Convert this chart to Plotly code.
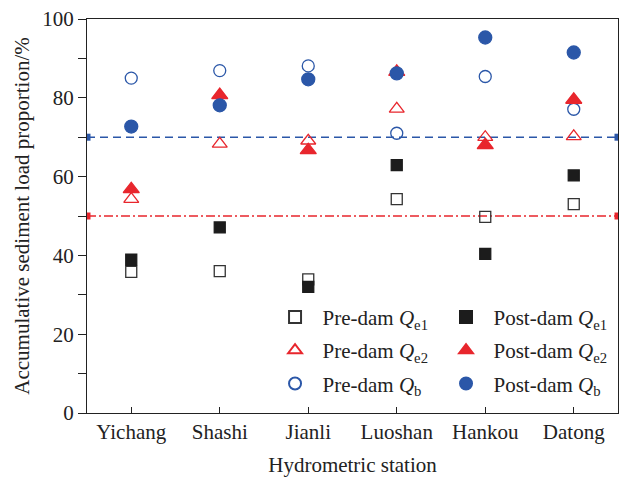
import plotly.graph_objects as go

stations = ["Yichang", "Shashi", "Jianli", "Luoshan", "Hankou", "Datong"]
pre_qe1 = [35.8, 36.0, 33.9, 54.3, 49.8, 53.0]
post_qe1 = [38.9, 47.1, 32.0, 62.9, 40.4, 60.3]
pre_qe2 = [54.3, 68.3, 69.1, 77.2, 70.0, 70.2]
post_qe2 = [56.8, 80.7, 66.7, 86.6, 68.0, 79.5]
pre_qb = [85.0, 86.9, 88.1, 71.0, 85.4, 77.1]
post_qb = [72.7, 78.1, 84.7, 86.2, 95.3, 91.5]
threshold_blue = 70
threshold_red = 50
y_ticks = [0, 20, 40, 60, 80, 100]

BLUE = "#2b57a8"
RED = "#e8262d"
BLACK = "#1c1c1c"
FONT = "Liberation Serif"
FS = 21

xi = list(range(len(stations)))
fig = go.Figure()

def add(name, y, symbol, color, size, filled, legend, group):
    fig.add_trace(go.Scatter(
        x=xi, y=y, mode="markers", name=name, legend=legend, legendgroup=group,
        marker=dict(symbol=symbol if filled else symbol + "-open", size=size,
                    color=color, line=dict(width=1.3, color=color)),
        showlegend=True))

# reference lines
fig.add_trace(go.Scatter(x=[-0.5, 5.5], y=[threshold_red] * 2, mode="lines+markers",
                         line=dict(color=RED, width=1.6, dash="9px,3px,2px,3px"),
                         marker=dict(symbol="square", size=7, color=RED),
                         showlegend=False))
fig.add_trace(go.Scatter(x=[-0.5, 5.5], y=[threshold_blue] * 2, mode="lines+markers",
                         line=dict(color=BLUE, width=1.6, dash="8px,5px"),
                         marker=dict(symbol="square", size=7, color=BLUE),
                         showlegend=False))

add("Pre-dam <i>Q</i><sub>e1</sub>", pre_qe1, "square", "#333333", 11, False, "legend", "a1")
add("Pre-dam <i>Q</i><sub>e2</sub>", pre_qe2, "triangle-up", RED, 13, False, "legend", "a2")
add("Pre-dam <i>Q</i><sub>b</sub>", pre_qb, "circle", BLUE, 12, False, "legend", "a3")
add("Post-dam <i>Q</i><sub>e1</sub>", post_qe1, "square", BLACK, 11, True, "legend2", "b1")
add("Post-dam <i>Q</i><sub>e2</sub>", post_qe2, "triangle-up", RED, 14, True, "legend2", "b2")
add("Post-dam <i>Q</i><sub>b</sub>", post_qb, "circle", BLUE, 13, True, "legend2", "b3")

leg_common = dict(bgcolor="rgba(0,0,0,0)", font=dict(family=FONT, size=FS, color="#222"),
                  yanchor="top", xanchor="left", tracegroupgap=3, itemsizing="constant",
                  itemwidth=45)

fig.update_layout(
    width=625, height=482,
    margin=dict(l=87, r=7, t=19, b=69),
    paper_bgcolor="white", plot_bgcolor="white",
    font=dict(family=FONT, size=FS, color="#222"),
    legend=dict(x=0.34, y=0.295, **leg_common),
    legend2=dict(x=0.662, y=0.295, **leg_common),
    xaxis=dict(
        range=[-0.5, 5.5], tickvals=xi, ticktext=stations,
        ticks="inside", ticklen=6, tickwidth=1.3, tickcolor="#222",
        showline=True, linecolor="#222", linewidth=1.3, mirror=True,
        showgrid=False, zeroline=False,
        title=dict(text="Hydrometric station", font=dict(size=FS), standoff=13),
    ),
    yaxis=dict(
        range=[0, 100], tickvals=y_ticks,
        ticks="outside", ticklen=8, tickwidth=1.3, tickcolor="#222",
        minor=dict(dtick=10, tick0=0, ticks="outside", ticklen=8, tickwidth=1.3, tickcolor="#222"),
        showline=True, linecolor="#222", linewidth=1.3, mirror=True,
        showgrid=False, zeroline=False,
        title=dict(text="Accumulative sediment load proportion/%", font=dict(size=FS), standoff=6),
    ),
)

fig.write_html("out.html")
